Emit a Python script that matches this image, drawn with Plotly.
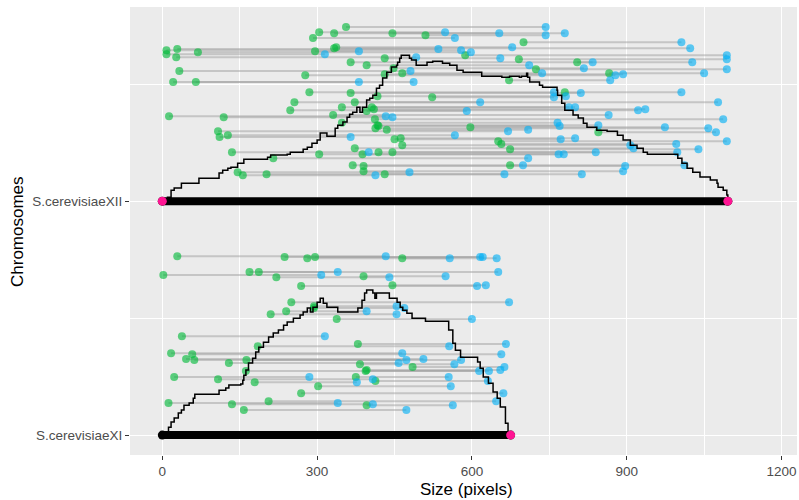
import plotly.graph_objects as go

# ---------------- data ----------------
chrom_names = ["S.cerevisiaeXI", "S.cerevisiaeXII"]
chrom_pos = [1, 2]
chrom_len = [675, 1096]

# XII: read segments (start, end, track height)
xii_start = [356, 304, 333, 446, 510, 292, 700, 337, 333, 29, 8, 296, 69, 8, 27, 431, 587, 691, 365, 804,
             396, 448, 724, 33, 866, 465, 277, 431, 672, 21, 65, 285, 780, 365, 417, 523, 256, 373, 348, 406,
             410, 248, 396, 331, 13, 119, 412, 348, 417, 419, 597, 413, 108, 435, 845, 127, 111, 450, 462, 651,
             657, 465, 373, 674, 135, 419, 446, 388, 304, 215, 369, 390, 674, 146, 156, 202, 390, 431]
xii_end = [743, 548, 653, 780, 743, 567, 1006, 678, 1023, 535, 579, 381, 598, 315, 492, 655, 1094, 1094, 834, 1027,
           711, 817, 1094, 481, 1050, 736, 878, 893, 868, 381, 487, 759, 1006, 811, 782, 759, 616, 1077, 788, 800,
           936, 922, 590, 865, 433, 446, 1087, 766, 845, 770, 974, 1058, 670, 709, 1073, 567, 365, 772, 800, 1094,
           996, 907, 913, 1039, 400, 998, 840, 768, 778, 709, 699, 897, 1012, 479, 413, 663, 893, 813]
xii_track = [2.744, 2.722, 2.718, 2.718, 2.709, 2.697, 2.679, 2.658, 2.654, 2.650, 2.645, 2.641, 2.637, 2.628, 2.615,
             2.611, 2.624, 2.607, 2.594, 2.594, 2.581, 2.568, 2.564, 2.556, 2.547, 2.547, 2.538, 2.543, 2.517, 2.509,
             2.509, 2.466, 2.466, 2.462, 2.449, 2.444, 2.423, 2.423, 2.402, 2.402, 2.393, 2.389, 2.385, 2.368, 2.363,
             2.359, 2.350, 2.335, 2.325, 2.321, 2.316, 2.312, 2.299, 2.305, 2.295, 2.282, 2.274, 2.265, 2.269, 2.256,
             2.244, 2.239, 2.226, 2.222, 2.209, 2.209, 2.209, 2.201, 2.201, 2.184, 2.154, 2.150, 2.154, 2.124, 2.111,
             2.115, 2.128, 2.115]

# XI segments
xi_start = [29, 237, 296, 281, 465, 2, 169, 187, 221, 390, 269, 446, 250, 294, 294, 240, 210, 338, 38, 379,
            185, 17, 58, 46, 62, 163, 129, 383, 485, 396, 162, 394, 23, 108, 375, 179, 413, 302, 269, 206,
            12, 135, 396, 158]
xi_end = [433, 621, 616, 557, 648, 308, 651, 340, 440, 549, 610, 627, 672, 454, 469, 396, 454, 600, 315, 666,
          556, 465, 657, 506, 473, 579, 458, 566, 663, 655, 614, 633, 285, 408, 555, 377, 631, 559, 661, 647,
          340, 408, 563, 473]
xi_track = [1.765, 1.761, 1.761, 1.756, 1.756, 1.684, 1.697, 1.697, 1.675, 1.679, 1.637, 1.641, 1.568, 1.551, 1.543,
            1.530, 1.517, 1.496, 1.423, 1.389, 1.380, 1.350, 1.346, 1.325, 1.321, 1.321, 1.308, 1.303, 1.291, 1.278,
            1.274, 1.274, 1.248, 1.239, 1.248, 1.226, 1.231, 1.209, 1.179, 1.145, 1.137, 1.132, 1.128, 1.107]

# coverage profiles (step positions and levels)
xii_prof_x = [3, 10, 17, 23, 37, 71, 110, 117, 127, 133, 146, 158, 204, 210, 242, 248, 273, 281, 290, 300,
              306, 319, 335, 340, 350, 358, 363, 369, 377, 383, 388, 396, 402, 408, 415, 421, 427, 435, 444, 454,
              456, 460, 463, 479, 483, 492, 513, 524, 543, 557, 571, 583, 619, 658, 673, 692, 696, 706, 708, 712,
              731, 737, 765, 766, 774, 780, 796, 806, 816, 823, 842, 862, 882, 893, 907, 920, 932, 940, 999, 1007,
              1017, 1028, 1042, 1062, 1075, 1077, 1087, 1094, 1096]
xii_prof_y = [2.0, 2.017, 2.047, 2.056, 2.077, 2.098, 2.120, 2.132, 2.141, 2.145, 2.162, 2.179, 2.188, 2.197, 2.201,
              2.209, 2.222, 2.231, 2.248, 2.261, 2.291, 2.278, 2.312, 2.325, 2.338, 2.359, 2.372, 2.380, 2.402, 2.380,
              2.402, 2.432, 2.440, 2.453, 2.483, 2.496, 2.526, 2.551, 2.573, 2.581, 2.594, 2.611, 2.624, 2.611, 2.603,
              2.581, 2.594, 2.598, 2.590, 2.581, 2.560, 2.551, 2.534, 2.530, 2.534, 2.530, 2.534, 2.547, 2.530, 2.509,
              2.496, 2.487, 2.474, 2.453, 2.419, 2.389, 2.368, 2.355, 2.333, 2.316, 2.303, 2.299, 2.282, 2.261, 2.239,
              2.226, 2.209, 2.201, 2.184, 2.162, 2.141, 2.124, 2.103, 2.090, 2.077, 2.060, 2.047, 2.026, 2.004]

xi_prof_x = [0, 4, 12, 17, 23, 31, 37, 42, 52, 60, 63, 110, 123, 129, 152, 156, 158, 162, 167, 175,
             181, 187, 196, 206, 215, 225, 235, 242, 254, 267, 273, 281, 287, 292, 300, 306, 312, 319, 340, 379,
             387, 392, 396, 408, 412, 415, 440, 455, 461, 466, 474, 484, 510, 555, 563, 568, 578, 611, 616, 622,
             632, 641, 649, 655, 665, 670, 675]
xi_prof_y = [1.0, 1.013, 1.034, 1.056, 1.073, 1.094, 1.107, 1.128, 1.137, 1.158, 1.175, 1.192, 1.201, 1.214, 1.218,
             1.235, 1.256, 1.278, 1.308, 1.329, 1.355, 1.376, 1.397, 1.419, 1.436, 1.449, 1.470, 1.483, 1.500, 1.513,
             1.526, 1.543, 1.526, 1.547, 1.568, 1.585, 1.564, 1.547, 1.526, 1.543, 1.577, 1.607, 1.620, 1.607, 1.585,
             1.607, 1.585, 1.568, 1.547, 1.534, 1.521, 1.500, 1.487, 1.449, 1.393, 1.363, 1.333, 1.312, 1.286, 1.248,
             1.222, 1.184, 1.158, 1.120, 1.051, 1.013, 1.0]

x_ticks = [0, 300, 600, 900, 1200]

# ---------------- styles ----------------
GREEN = "#00BA38"
BLUE = "#00B0F6"
PINK = "#FF1493"
SEG = "rgba(160,160,160,0.5)"
FONT = "Liberation Sans, Arial, sans-serif"

starts = xii_start + xi_start
ends = xii_end + xi_end
tracks = xii_track + xi_track

seg_x, seg_y = [], []
for s, e, t in zip(starts, ends, tracks):
    seg_x += [s, e, None]
    seg_y += [t, t, None]

fig = go.Figure()
fig.add_trace(go.Scatter(x=seg_x, y=seg_y, mode="lines",
                         line=dict(color=SEG, width=2), hoverinfo="skip", showlegend=False))
fig.add_trace(go.Scatter(x=starts, y=tracks, mode="markers",
                         marker=dict(color=GREEN, size=8, opacity=0.62), showlegend=False))
fig.add_trace(go.Scatter(x=ends, y=tracks, mode="markers",
                         marker=dict(color=BLUE, size=8, opacity=0.62), showlegend=False))
fig.add_trace(go.Scatter(x=xii_prof_x, y=xii_prof_y, mode="lines",
                         line=dict(color="black", width=1.5, shape="hv"), showlegend=False))
fig.add_trace(go.Scatter(x=xi_prof_x, y=xi_prof_y, mode="lines",
                         line=dict(color="black", width=1.5, shape="hv"), showlegend=False))

# chromosome bars
for pos, L in zip(chrom_pos, chrom_len):
    fig.add_trace(go.Scatter(x=[0, L], y=[pos, pos], mode="lines+markers",
                             line=dict(color="black", width=8),
                             marker=dict(color="black", size=9), showlegend=False))

# pink end markers
fig.add_trace(go.Scatter(x=[0, chrom_len[1], chrom_len[0]],
                         y=[chrom_pos[1], chrom_pos[1], chrom_pos[0]],
                         mode="markers", marker=dict(color=PINK, size=9), showlegend=False))

fig.update_layout(
    width=799, height=500,
    margin=dict(l=130, r=2, t=7, b=45),
    plot_bgcolor="#EBEBEB", paper_bgcolor="white",
    font=dict(family=FONT),
    xaxis=dict(range=[-62.6, 1230], tickmode="array", tickvals=x_ticks,
               ticktext=[str(v) for v in x_ticks],
               showgrid=True, gridcolor="white", gridwidth=1.1, zeroline=False,
               ticks="outside", ticklen=4, tickwidth=1, tickcolor="#333333",
               tickfont=dict(size=13.5, color="#4D4D4D", family=FONT),
               minor=dict(tickmode="array", tickvals=[150, 450, 750, 1050],
                          showgrid=True, gridcolor="white", gridwidth=0.55, ticks="")),
    yaxis=dict(range=[0.915, 2.83], tickmode="array", tickvals=chrom_pos, ticktext=chrom_names,
               showgrid=True, gridcolor="white", gridwidth=1.1, zeroline=False,
               ticks="outside", ticklen=4, tickwidth=1, tickcolor="#333333",
               tickfont=dict(size=13.5, color="#4D4D4D", family=FONT),
               minor=dict(tickmode="array", tickvals=[1.5, 2.5],
                          showgrid=True, gridcolor="white", gridwidth=0.55, ticks="")),
    annotations=[
        dict(text="Size (pixels)", xref="paper", yref="paper", x=(466 - 130) / 667, y=(455 - 489) / 448,
             xanchor="center", yanchor="middle", showarrow=False,
             font=dict(size=17, color="black", family=FONT)),
        dict(text="Chromosomes", xref="paper", yref="paper", x=(18 - 130) / 667, y=(455 - 232) / 448,
             xanchor="center", yanchor="middle", textangle=-90, showarrow=False,
             font=dict(size=17, color="black", family=FONT)),
    ],
)

fig.write_html("out.html")
